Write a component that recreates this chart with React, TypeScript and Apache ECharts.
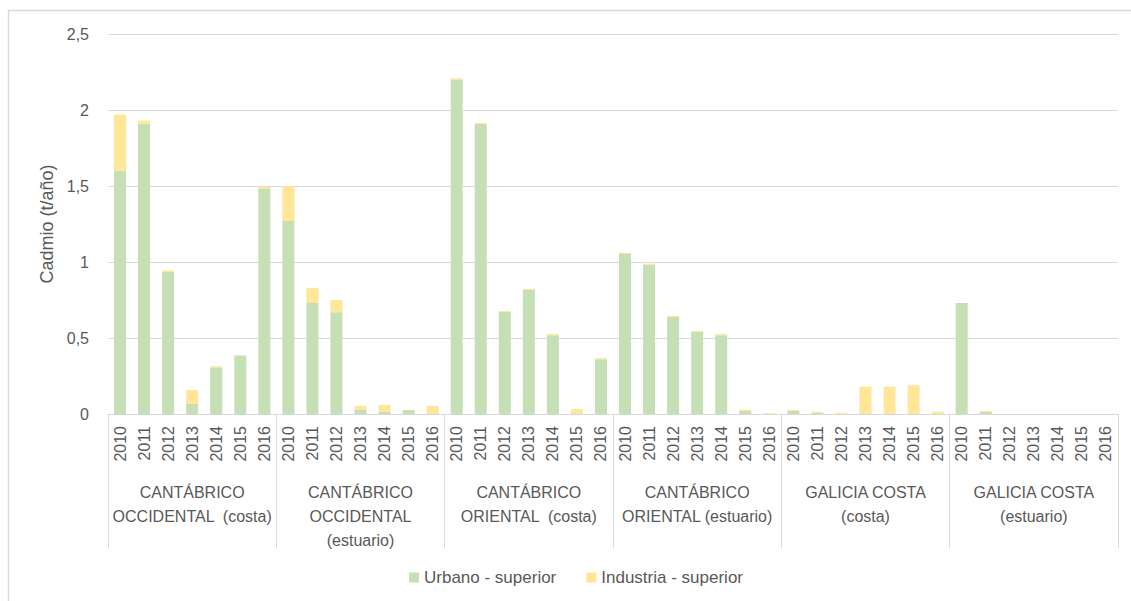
import React, { useEffect, useRef } from "react";
import * as echarts from "echarts";

const groups = [
  "CANTÁBRICO\nOCCIDENTAL  (costa)",
  "CANTÁBRICO\nOCCIDENTAL\n(estuario)",
  "CANTÁBRICO\nORIENTAL  (costa)",
  "CANTÁBRICO\nORIENTAL (estuario)",
  "GALICIA COSTA\n(costa)",
  "GALICIA COSTA\n(estuario)",
];
const years = ["2010", "2011", "2012", "2013", "2014", "2015", "2016"];

const urbano = [
  1.6, 1.91, 0.935, 0.066, 0.307, 0.385, 1.48,
  1.27, 0.73, 0.67, 0.03, 0.013, 0.026, 0,
  2.2, 1.908, 0.672, 0.816, 0.518, 0, 0.36,
  1.057, 0.982, 0.638, 0.539, 0.518, 0.02, 0.001,
  0.02, 0.008, 0.001, 0, 0, 0, 0,
  0.73, 0.015, 0, 0, 0, 0, 0,
];
const industria = [
  0.37, 0.02, 0.01, 0.092, 0.007, 0, 0.015,
  0.23, 0.1, 0.08, 0.024, 0.046, 0, 0.053,
  0.008, 0.006, 0.006, 0.006, 0.008, 0.033, 0.008,
  0.003, 0.007, 0.007, 0.007, 0.008, 0.008, 0.005,
  0.006, 0.007, 0.008, 0.18, 0.18, 0.189, 0.015,
  0, 0.005, 0, 0, 0, 0, 0,
];

const seriesNames = ["Urbano - superior", "Industria - superior"];
const yTitle = "Cadmio (t/año)";

const FONT = "'Liberation Sans', Arial, sans-serif";
const TXT = "#595959";
const GRID = "#D9D9D9";

export default function App() {
  const ref = useRef<HTMLDivElement>(null);
  useEffect(() => {
    if (!ref.current) return;
    const chart = echarts.init(ref.current, undefined, { renderer: "svg" });
    const yearCats: string[] = [];
    groups.forEach(() => years.forEach((y) => yearCats.push(y)));
    chart.setOption({
      animation: false,
      textStyle: { fontFamily: FONT, color: TXT },
      graphic: [
        {
          type: "rect",
          shape: { x: 8.5, y: 10.5, width: 1140, height: 620 },
          style: { fill: "none", stroke: GRID, lineWidth: 1.5 },
          silent: true,
        },
      ],
      grid: { left: 108, right: 13, top: 34, bottom: 187, containLabel: false },
      legend: {
        left: 404,
        top: 564,
        icon: "rect",
        itemWidth: 10,
        itemHeight: 10,
        itemGap: 30,
        textStyle: { fontFamily: FONT, color: TXT, fontSize: 17 },
        data: seriesNames,
      },
      xAxis: [
        {
          type: "category",
          position: "bottom",
          data: yearCats,
          axisLine: { show: true, lineStyle: { color: GRID, width: 1 } },
          axisTick: { show: false },
          axisLabel: {
            interval: 0,
            rotate: 90,
            margin: 12,
            fontSize: 16,
            color: TXT,
            fontFamily: FONT,
          },
        },
        {
          type: "category",
          position: "bottom",
          data: groups,
          axisLine: { show: false },
          axisTick: {
            show: true,
            length: 134,
            lineStyle: { color: GRID, width: 1 },
          },
          axisLabel: {
            interval: 0,
            margin: 66,
            fontSize: 16,
            lineHeight: 24,
            color: TXT,
            fontFamily: FONT,
            align: "center",
          },
          splitLine: { show: false },
        },
      ],
      yAxis: {
        type: "value",
        min: 0,
        max: 2.5,
        interval: 0.5,
        name: yTitle,
        nameLocation: "middle",
        nameRotate: 90,
        nameGap: 52,
        nameTextStyle: { fontSize: 18, color: TXT, fontFamily: FONT },
        axisLine: { show: false },
        axisTick: { show: false },
        axisLabel: {
          margin: 19,
          fontSize: 16,
          color: TXT,
          fontFamily: FONT,
          formatter: (v: number) => String(v).replace(".", ","),
        },
        splitLine: { lineStyle: { color: GRID, width: 1 } },
      },
      series: [
        {
          name: seriesNames[0],
          type: "bar",
          stack: "total",
          data: urbano,
          barWidth: "50%",
          itemStyle: { color: "#C5E0B4" },
        },
        {
          name: seriesNames[1],
          type: "bar",
          stack: "total",
          data: industria,
          barWidth: "50%",
          itemStyle: { color: "#FFE699" },
        },
      ],
    });
    return () => chart.dispose();
  }, []);
  return (
    <div
      ref={ref}
      style={{ position: "absolute", left: 0, top: 0, width: 1131, height: 601 }}
    />
  );
}
